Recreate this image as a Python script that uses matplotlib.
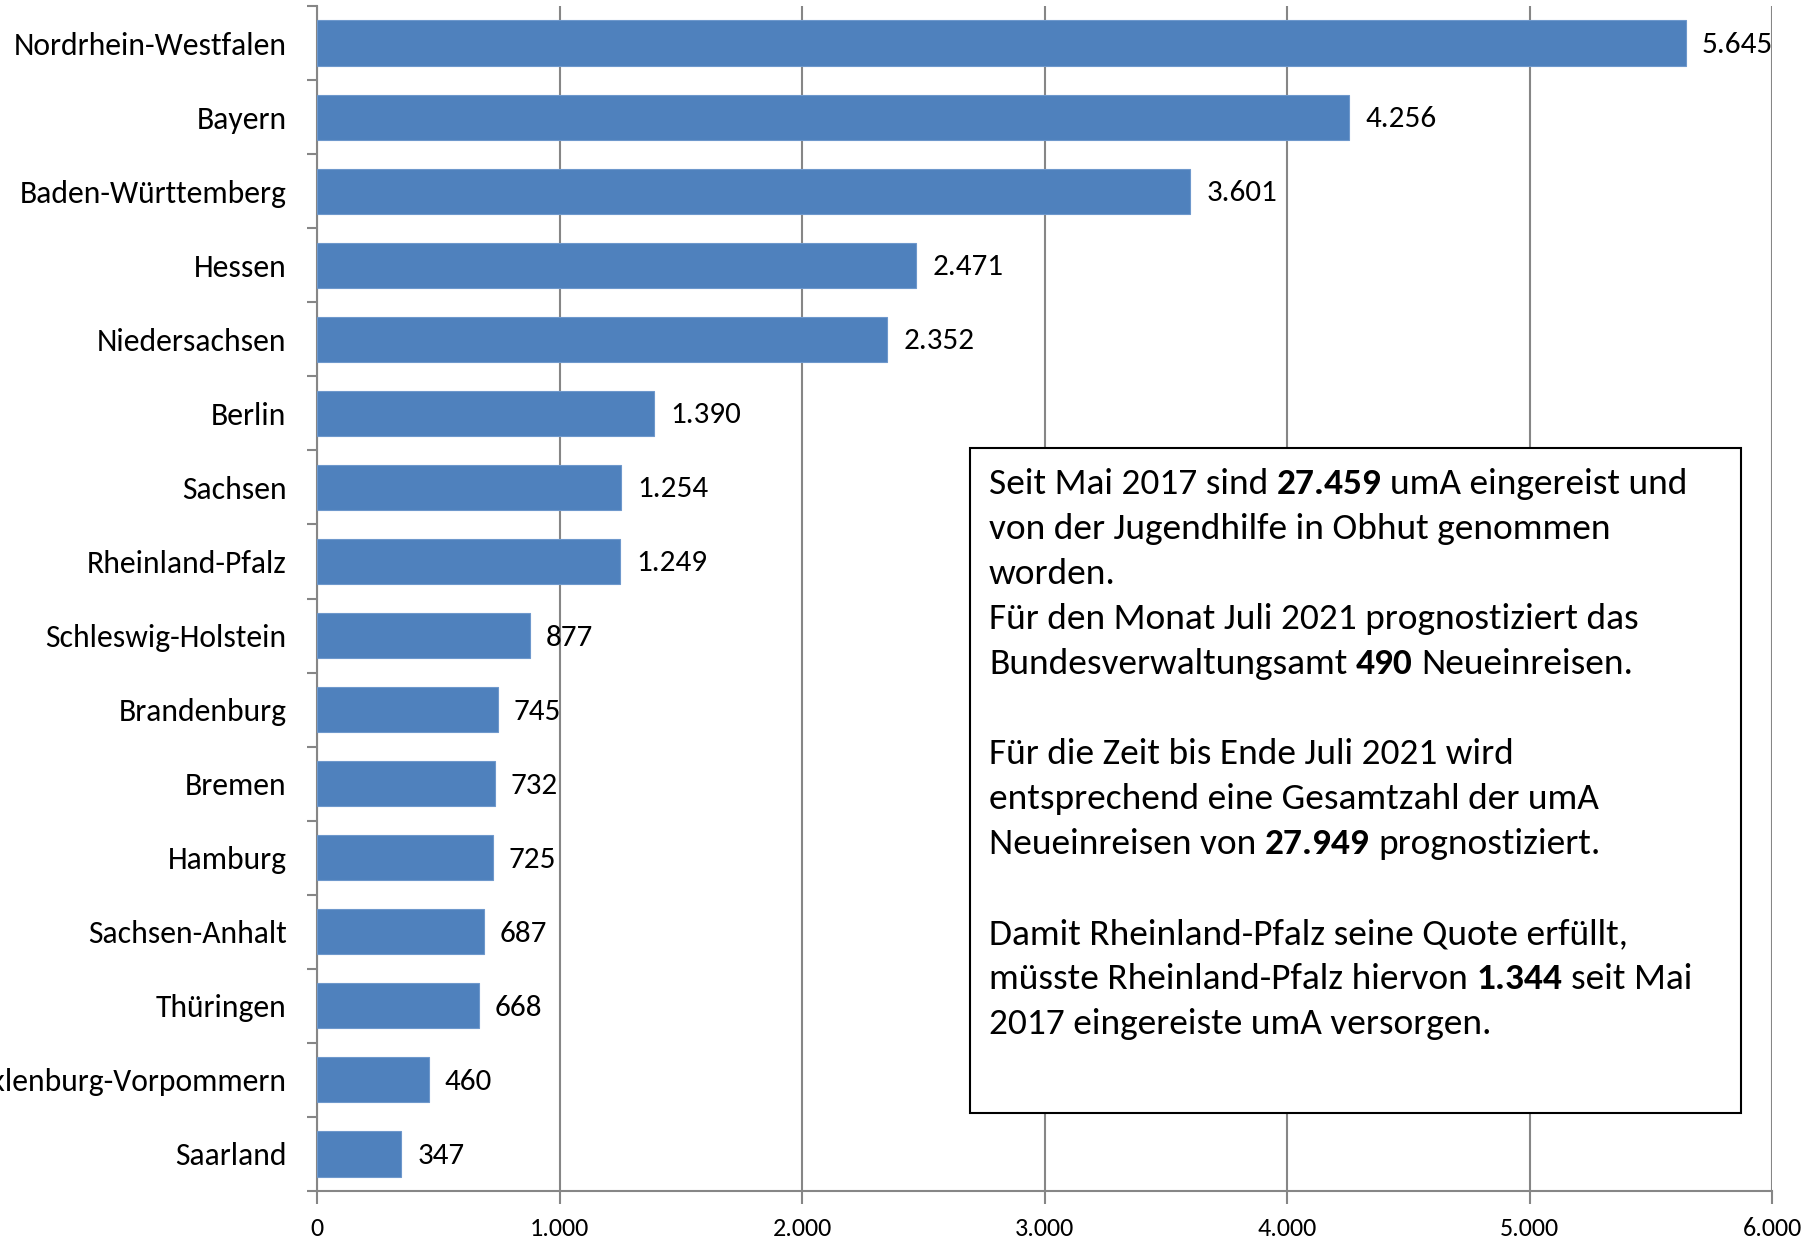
import numpy as np
import matplotlib
matplotlib.use('Agg')
import matplotlib.pyplot as plt
from matplotlib.ticker import FixedLocator
from matplotlib.patches import Rectangle
from matplotlib.transforms import IdentityTransform

# ---------------- data ----------------
states = ["Nordrhein-Westfalen", "Bayern", "Baden-Württemberg", "Hessen",
          "Niedersachsen", "Berlin", "Sachsen", "Rheinland-Pfalz",
          "Schleswig-Holstein", "Brandenburg", "Bremen", "Hamburg",
          "Sachsen-Anhalt", "Thüringen", "Mecklenburg-Vorpommern", "Saarland"]
values = [5645, 4256, 3601, 2471, 2352, 1390, 1254, 1249,
          877, 745, 732, 725, 687, 668, 460, 347]
xticks = [0, 1000, 2000, 3000, 4000, 5000, 6000]
xtick_labels = ["0", "1.000", "2.000", "3.000", "4.000", "5.000", "6.000"]

box_lines = [
    [("Seit Mai 2017 sind ", False), ("27.459", True), (" umA eingereist und", False)],
    [("von der Jugendhilfe in Obhut genommen", False)],
    [("worden.", False)],
    [("Für den Monat Juli 2021 prognostiziert das", False)],
    [("Bundesverwaltungsamt ", False), ("490", True), (" Neueinreisen.", False)],
    [],
    [("Für die Zeit bis Ende Juli 2021 wird", False)],
    [("entsprechend eine Gesamtzahl der umA", False)],
    [("Neueinreisen von ", False), ("27.949", True), (" prognostiziert.", False)],
    [],
    [("Damit Rheinland-Pfalz seine Quote erfüllt,", False)],
    [("müsste Rheinland-Pfalz hiervon ", False), ("1.344", True), (" seit Mai", False)],
    [("2017 eingereiste umA versorgen.", False)],
]

# ---------------- style ----------------
FONT = ['Carlito', 'Lato', 'DejaVu Sans']
plt.rcParams['font.family'] = FONT
BAR = '#4F81BD'
GRID = '#868686'
W, H = 1810, 1239
LABEL_FS = 22.8
VALUE_FS = 22.4
TICK_FS = 18.8
BOX_FS = 26.9

fig = plt.figure(figsize=(W / 100, H / 100), dpi=100)
ax_l, ax_r, ax_t, ax_b = 317, 1772, 6, 1191
ax = fig.add_axes([ax_l / W, 1 - ax_b / H, (ax_r - ax_l) / W, (ax_b - ax_t) / H])

y = np.arange(len(states))
ax.barh(y, values, height=0.61, color=BAR, edgecolor='#6E98CC', linewidth=0.8, zorder=3)
ax.set_xlim(0, 6000)
ax.set_ylim(len(states) - 0.5, -0.5)
ax.set_axisbelow(True)

ax.set_xticks(xticks)
ax.set_xticklabels(xtick_labels, fontsize=TICK_FS)
ax.set_yticks(y)
ax.set_yticklabels(states, fontsize=LABEL_FS)
ax.yaxis.set_minor_locator(FixedLocator(np.arange(-0.5, len(states) + 0.5, 1)))
ax.tick_params(axis='y', which='major', length=0, pad=22)
ax.tick_params(axis='y', which='minor', length=7, width=1.5, color=GRID, direction='out')
ax.tick_params(axis='x', which='major', length=9, width=1.5, color=GRID, pad=10)
ax.grid(axis='x', color=GRID, linewidth=1.5, zorder=0)
ax.grid(axis='y', visible=False)
for s in ['top', 'right']:
    ax.spines[s].set_visible(False)
for s in ['left', 'bottom']:
    ax.spines[s].set_color(GRID)
    ax.spines[s].set_linewidth(1.5)

for i, v in enumerate(values):
    ax.annotate(f"{v:,}".replace(",", "."), xy=(v, i), xytext=(16, -2),
                textcoords='offset pixels', va='center', ha='left',
                fontsize=VALUE_FS, zorder=4)

# ---------------- text box ----------------
bx_l, bx_r, bx_t, bx_b = 970, 1741, 448, 1113
fig.add_artist(Rectangle((bx_l / W, 1 - bx_b / H), (bx_r - bx_l) / W, (bx_b - bx_t) / H,
                         transform=fig.transFigure, facecolor='white',
                         edgecolor='black', linewidth=1.5, zorder=5))

renderer = fig.canvas.get_renderer()


def text_width(s, bold):
    t = fig.text(0, 0, s, fontsize=BOX_FS, fontweight='bold' if bold else 'normal',
                 transform=IdentityTransform())
    w = t.get_window_extent(renderer).width
    t.remove()
    return w


space_w = {b: text_width("x x", b) - text_width("xx", b) for b in (False, True)}

text_x0 = 989
base0 = 494
line_h = 45
for k, segs in enumerate(box_lines):
    yb = H - (base0 + k * line_h)
    x = text_x0
    for s, bold in segs:
        lead = len(s) - len(s.lstrip(' '))
        trail = len(s) - len(s.rstrip(' '))
        core = s.strip(' ')
        x += lead * space_w[bold]
        fig.text(x, yb, core, fontsize=BOX_FS, fontweight='bold' if bold else 'normal',
                 transform=IdentityTransform(), va='baseline', ha='left', zorder=6)
        x += text_width(core, bold) + trail * space_w[bold]

fig.savefig('out.png', dpi=100)
